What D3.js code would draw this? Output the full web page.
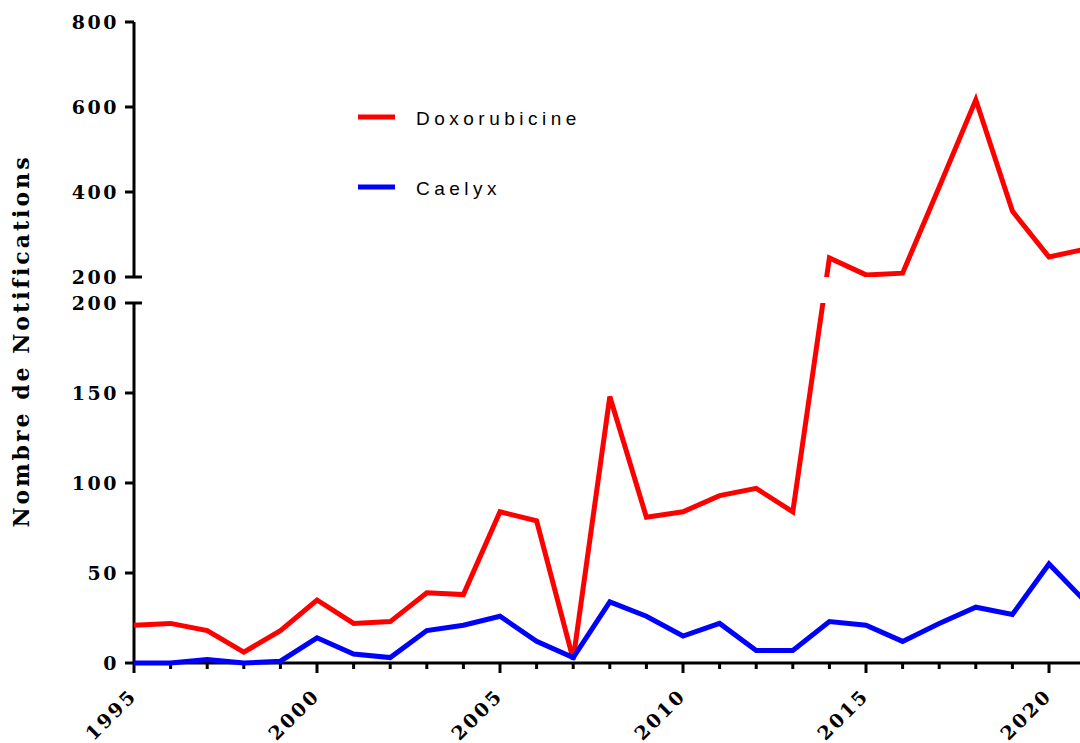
<!DOCTYPE html>
<html>
<head>
<meta charset="utf-8">
<script src="https://cdn.jsdelivr.net/npm/d3@7"></script>
<style>
  body { margin: 0; background: #fff; }
  svg { display: block; }
  .tick-label { font-family: "DejaVu Serif", serif; font-weight: bold; font-size: 19px; letter-spacing: 2.5px; fill: #000; }
  .legend-label { font-family: "Liberation Sans", Arial, sans-serif; font-size: 19px; letter-spacing: 4.5px; fill: #000; }
</style>
</head>
<body>
<svg id="chart" width="1080" height="743"></svg>
<script>
// years 1995..2021 (2021 runs off the right edge)
const years = d3.range(1995, 2022);
const doxorubicine = [21, 22, 18, 6, 18, 35, 22, 23, 39, 38, 84, 79, 2, 148, 81, 84, 93, 97, 84,
                      245, 205, 209, 412, 617, 355, 247, 266];
const caelyx = [0, 0, 2, 0, 1, 14, 5, 3, 18, 21, 26, 12, 3, 34, 26, 15, 22, 7, 7,
                23, 21, 12, 22, 31, 27, 55, 34];
const xTickYears = [1995, 2000, 2005, 2010, 2015, 2020];
const lowTicks = [0, 50, 100, 150, 200];
const highTicks = [200, 400, 600, 800];

const svg = d3.select("#chart");

const x = d3.scaleLinear().domain([1995, 2021]).range([134, 134 + 26 * 36.6]);
// broken y axis: two segments
const yLow = d3.scaleLinear().domain([0, 200]).range([663, 303]);
const yHigh = d3.scaleLinear().domain([200, 800]).range([277, 22]);
const y = v => v <= 200 ? yLow(v) : yHigh(v);

// clip out the gap between the two segments
const clip = svg.append("defs").append("clipPath").attr("id", "gap");
clip.append("rect").attr("x", 0).attr("y", 0).attr("width", 1080).attr("height", yHigh(200));
clip.append("rect").attr("x", 0).attr("y", yLow(200)).attr("width", 1080).attr("height", 743 - yLow(200));

// axes
const axW = 3;
const xAxisG = svg.append("g");
xAxisG.append("line")
  .attr("x1", x(1995)).attr("x2", 1080)
  .attr("y1", yLow(0)).attr("y2", yLow(0))
  .attr("stroke", "#000").attr("stroke-width", axW);
xAxisG.selectAll(".xt").data(years).enter().append("line")
  .attr("x1", d => x(d)).attr("x2", d => x(d))
  .attr("y1", yLow(0)).attr("y2", d => yLow(0) + (d % 5 === 0 ? 10 : 6))
  .attr("stroke", "#000").attr("stroke-width", axW);
xAxisG.selectAll(".xl").data(xTickYears).enter().append("text")
  .attr("class", "tick-label")
  .attr("text-anchor", "end")
  .attr("transform", d => "translate(" + (x(d) + 4) + ",697) rotate(-45)")
  .text(d => d);

const yAxisG = svg.append("g");
[[yLow, lowTicks], [yHigh, highTicks]].forEach(([sc, ticks]) => {
  yAxisG.append("line")
    .attr("x1", x(1995)).attr("x2", x(1995))
    .attr("y1", sc.range()[0]).attr("y2", sc.range()[1])
    .attr("stroke", "#000").attr("stroke-width", axW);
  yAxisG.selectAll(null).data(ticks).enter().append("line")
    .attr("x1", x(1995) - 9)
    .attr("x2", d => d === 200 ? x(1995) + 8 : x(1995))
    .attr("y1", d => sc(d)).attr("y2", d => sc(d))
    .attr("stroke", "#000").attr("stroke-width", axW);
  yAxisG.selectAll(null).data(ticks).enter().append("text")
    .attr("class", "tick-label")
    .attr("text-anchor", "end")
    .attr("x", x(1995) - 15)
    .attr("y", d => sc(d))
    .attr("dy", "0.36em")
    .text(d => d);
});

svg.append("text")
  .attr("class", "tick-label")
  .style("font-size", "22px")
  .style("letter-spacing", "3px")
  .attr("text-anchor", "middle")
  .attr("transform", "translate(29,341) rotate(-90)")
  .text("Nombre de Notifications");

// lines
const line = d3.line().x((d, i) => x(years[i])).y(d => y(d));
const series = [
  { name: "Doxorubicine", values: doxorubicine, color: "#ff0000" },
  { name: "Caelyx", values: caelyx, color: "#0000ff" }
];
svg.append("g").attr("clip-path", "url(#gap)")
  .selectAll("path").data(series).enter().append("path")
  .attr("d", d => line(d.values))
  .attr("fill", "none")
  .attr("stroke", d => d.color)
  .attr("stroke-width", 5)
  .attr("stroke-linejoin", "miter");

// legend
const legend = svg.append("g").selectAll("g").data(series).enter().append("g")
  .attr("transform", (d, i) => "translate(358," + (117 + i * 70) + ")");
legend.append("line")
  .attr("x1", 0).attr("x2", 37).attr("y1", 0).attr("y2", 0)
  .attr("stroke", d => d.color).attr("stroke-width", 5);
legend.append("text")
  .attr("class", "legend-label")
  .attr("x", 58).attr("y", 8)
  .text(d => d.name);
</script>
</body>
</html>
